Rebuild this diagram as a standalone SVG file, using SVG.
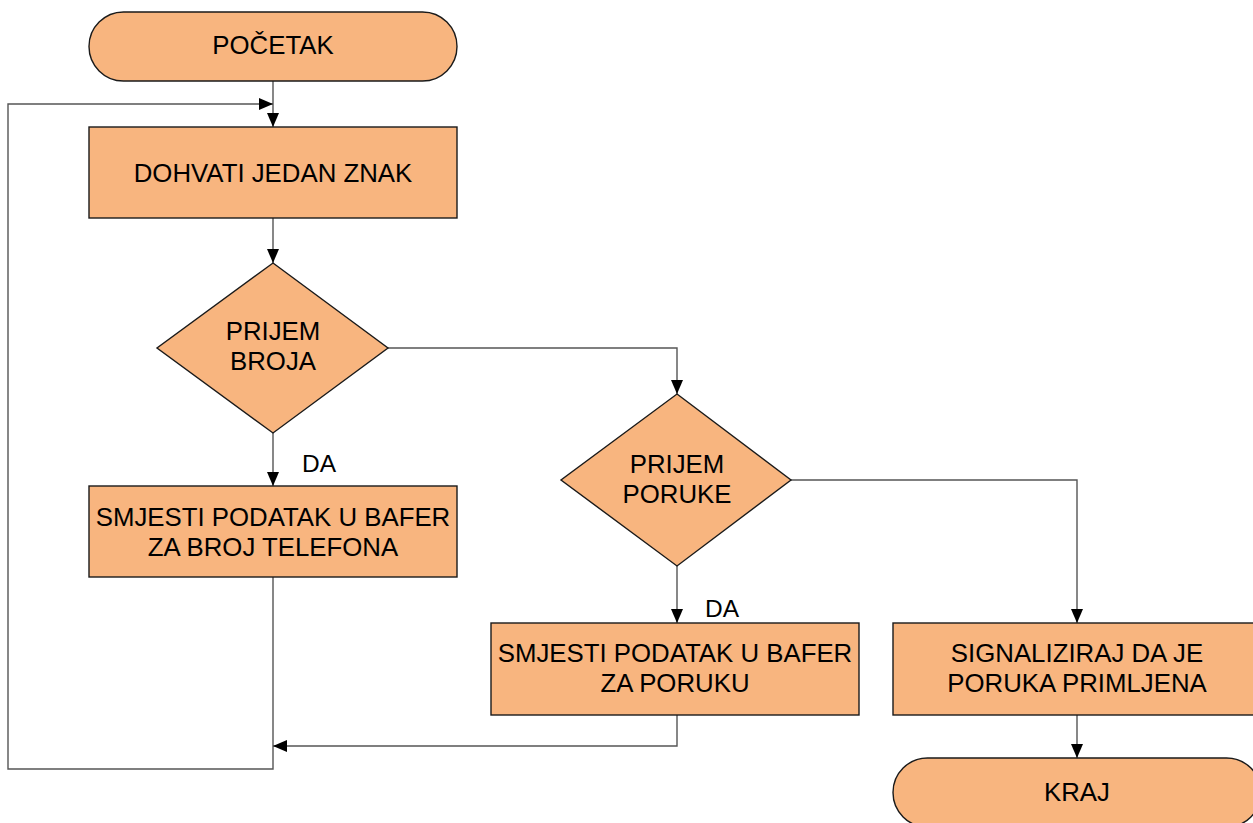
<svg xmlns="http://www.w3.org/2000/svg" width="1253" height="823" viewBox="0 0 1253 823">
<style>
.n{fill:#F8B57F;stroke:#1a1a1a;stroke-width:1.4}
.t{font-family:"Liberation Sans",Arial,sans-serif;font-size:25.8px;fill:#000;text-anchor:middle}
.l{font-family:"Liberation Sans",Arial,sans-serif;font-size:24.5px;fill:#000}
.c{fill:none;stroke:#555;stroke-width:1.4}
</style>
<defs>
<marker id="ah" markerUnits="userSpaceOnUse" markerWidth="14" markerHeight="12" refX="14" refY="6" orient="auto">
<path d="M0,0 L14,6 L0,12 z" fill="#000"/>
</marker>
</defs>
<rect width="1253" height="823" fill="#fff"/>
<g id="connectors">
<path class="c" d="M273,81 V127" marker-end="url(#ah)"/>
<path class="c" d="M273,577 V769 H8 V104 H273" marker-end="url(#ah)"/>
<path class="c" d="M273,218 V263" marker-end="url(#ah)"/>
<path class="c" d="M388,348 H677 V394" marker-end="url(#ah)"/>
<path class="c" d="M273,433 V486" marker-end="url(#ah)"/>
<path class="c" d="M791,480 H1077 V623" marker-end="url(#ah)"/>
<path class="c" d="M677,566 V623" marker-end="url(#ah)"/>
<path class="c" d="M677,715 V746 H273" marker-end="url(#ah)"/>
<path class="c" d="M1077,715 V758" marker-end="url(#ah)"/>
<text class="l" x="302" y="472">DA</text>
<text class="l" x="705" y="617">DA</text>
</g>
<g id="start">
<rect class="n" x="89" y="12" width="368" height="69" rx="34.5" ry="34.5"/>
<text class="t" x="273" y="54">POČETAK</text>
</g>
<g id="fetch">
<rect class="n" x="89" y="127" width="368" height="91"/>
<text class="t" x="273" y="182">DOHVATI JEDAN ZNAK</text>
</g>
<g id="dec1">
<polygon class="n" points="273,263 388,348 273,433 157,348"/>
<text class="t" x="273" y="340">PRIJEM</text>
<text class="t" x="273" y="370">BROJA</text>
</g>
<g id="store1">
<rect class="n" x="89" y="486" width="368" height="91"/>
<text class="t" x="273" y="526">SMJESTI PODATAK U BAFER</text>
<text class="t" x="273" y="556">ZA BROJ TELEFONA</text>
</g>
<g id="dec2">
<polygon class="n" points="677,394 791,480 677,566 561,480"/>
<text class="t" x="677" y="473">PRIJEM</text>
<text class="t" x="677" y="503">PORUKE</text>
</g>
<g id="store2">
<rect class="n" x="491" y="623" width="368" height="92"/>
<text class="t" x="675" y="662">SMJESTI PODATAK U BAFER</text>
<text class="t" x="675" y="692">ZA PORUKU</text>
</g>
<g id="signal">
<rect class="n" x="893" y="623" width="368" height="92"/>
<text class="t" x="1077" y="662">SIGNALIZIRAJ DA JE</text>
<text class="t" x="1077" y="692">PORUKA PRIMLJENA</text>
</g>
<g id="end">
<rect class="n" x="893" y="758" width="368" height="69" rx="34.5" ry="34.5"/>
<text class="t" x="1077" y="801">KRAJ</text>
</g>
</svg>
